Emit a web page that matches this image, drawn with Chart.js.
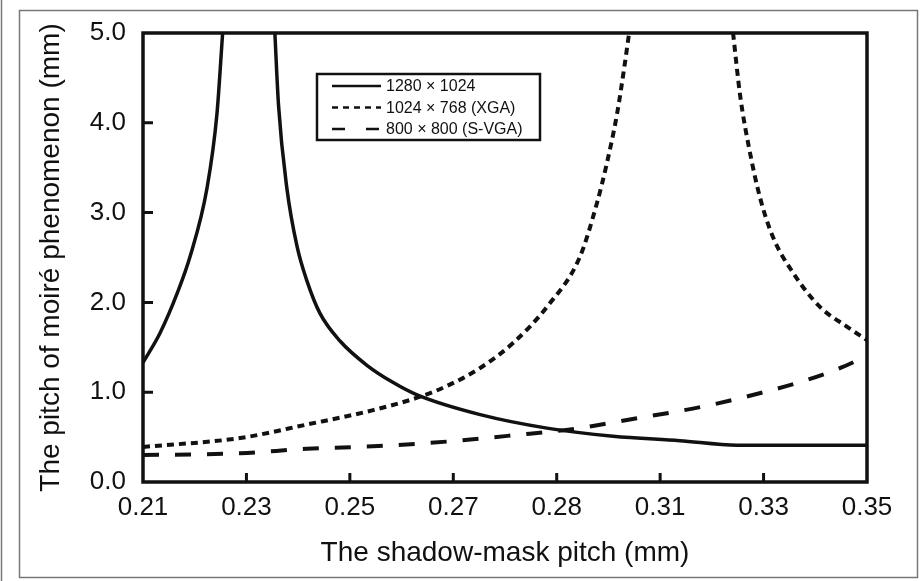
<!DOCTYPE html>
<html>
<head>
<meta charset="utf-8">
<script src="https://cdn.jsdelivr.net/npm/chart.js@4.4.1/dist/chart.umd.min.js"></script>
<style>
  body { margin: 0; background: #fff; }
  #box { width: 922px; height: 581px; }
</style>
</head>
<body>
<div id="box"><canvas id="grafico" width="922" height="581"></canvas></div>
<script>
// dados

const xTickValues = [0.21, 0.23, 0.25, 0.27, 0.29, 0.31, 0.33, 0.35];
const xTickLabels = ['0.21', '0.23', '0.25', '0.27', '0.28', '0.31', '0.33', '0.35'];
const yTickValues = [0, 1, 2, 3, 4, 5];

const seriesNames = ['1280 \u00d7 1024', '1024 \u00d7 768 (XGA)', '800 \u00d7 800 (S-VGA)'];

// 1280 x 1024 (null = quebra entre os dois ramos)
const pitch1280 = [0.21, 0.2133, 0.2166, 0.2191, 0.2224, 0.2243, 0.2254, 0.23, 0.2355, 0.2362, 0.2378, 0.2398, 0.2417, 0.2442, 0.2481, 0.2533, 0.2583, 0.2630, 0.2752, 0.2881, 0.3009, 0.3138, 0.3249, 0.35];
const moire1280 = [1.33, 1.66, 2.10, 2.51, 3.28, 4.10, 5.0, null, 5.0, 4.20, 3.28, 2.62, 2.24, 1.88, 1.57, 1.30, 1.11, 0.97, 0.75, 0.60, 0.51, 0.46, 0.41, 0.41];

// 1024 x 768 (XGA)
const pitchXGA = [0.21, 0.2288, 0.2417, 0.2545, 0.2636, 0.2688, 0.2752, 0.2816, 0.2881, 0.2945, 0.2978, 0.2997, 0.3017, 0.3032, 0.3040, 0.314, 0.3241, 0.3255, 0.3274, 0.3293, 0.3318, 0.3357, 0.3409, 0.3461, 0.35];
const moireXGA = [0.39, 0.49, 0.64, 0.80, 0.95, 1.07, 1.27, 1.55, 1.95, 2.51, 3.11, 3.55, 4.11, 4.67, 5.0, null, 5.0, 4.29, 3.66, 3.17, 2.73, 2.33, 1.95, 1.73, 1.58];

// 800 x 800 (S-VGA)
const pitchSVGA = [0.21, 0.2288, 0.2417, 0.2555, 0.2688, 0.2816, 0.2945, 0.2995, 0.3055, 0.3117, 0.3183, 0.3245, 0.3307, 0.3369, 0.3431, 0.35];
const moireSVGA = [0.30, 0.32, 0.37, 0.40, 0.45, 0.52, 0.60, 0.65, 0.71, 0.77, 0.84, 0.92, 1.01, 1.11, 1.23, 1.40];

function pares(xs, ys) {
    return xs.map((x, i) => ({ x: x, y: ys[i] }));
}

const fonte = "'Liberation Sans', Arial, Helvetica, sans-serif";

// moldura, ticks para dentro e legenda
const extras = {
    id: 'extras',
    beforeDraw(chart) {
        const ctx = chart.ctx;
        ctx.save();
        ctx.strokeStyle = '#777';
        ctx.lineWidth = 1.5;
        ctx.strokeRect(19.5, 10.5, 898, 567);
        ctx.beginPath();
        ctx.moveTo(1.5, 0);
        ctx.lineTo(1.5, 581);
        ctx.stroke();
        ctx.restore();
    },
    afterDatasetsDraw(chart) {
        const ctx = chart.ctx;
        const a = chart.chartArea;
        const sx = chart.scales.x, sy = chart.scales.y;
        ctx.save();
        ctx.strokeStyle = '#111';
        ctx.lineWidth = 3;
        ctx.beginPath();
        yTickValues.slice(1, -1).forEach(v => {
            const y = sy.getPixelForValue(v);
            ctx.moveTo(a.left, y);
            ctx.lineTo(a.left + 10, y);
        });
        xTickValues.slice(1, -1).forEach(v => {
            const x = sx.getPixelForValue(v);
            ctx.moveTo(x, a.bottom);
            ctx.lineTo(x, a.bottom - 9);
        });
        ctx.stroke();
        ctx.lineWidth = 3.5;
        ctx.strokeRect(a.left, a.top, a.right - a.left, a.bottom - a.top);

        // legenda
        ctx.lineWidth = 2.5;
        ctx.strokeRect(317, 74, 223, 66);
        ctx.font = '16px ' + fonte;
        ctx.fillStyle = '#111';
        ctx.textBaseline = 'middle';
        const amostras = [[], [6, 5], [13, 21]];
        chart.data.datasets.forEach((ds, i) => {
            const y = 86 + i * 21.5;
            ctx.setLineDash(amostras[i]);
            ctx.lineWidth = 2.5;
            ctx.beginPath();
            ctx.moveTo(332, y);
            ctx.lineTo(381, y);
            ctx.stroke();
            ctx.setLineDash([]);
            ctx.fillText(ds.label, 386, y + 1);
        });
        ctx.restore();
    }
};

const config = {
    type: 'line',
    data: {
        datasets: [{
            label: seriesNames[0],
            data: pares(pitch1280, moire1280),
            borderColor: '#111',
            borderWidth: 3.5,
            pointRadius: 0,
            cubicInterpolationMode: 'monotone',
            spanGaps: false
        }, {
            label: seriesNames[1],
            data: pares(pitchXGA, moireXGA),
            borderColor: '#111',
            borderWidth: 4,
            borderDash: [7, 5],
            pointRadius: 0,
            cubicInterpolationMode: 'monotone',
            spanGaps: false
        }, {
            label: seriesNames[2],
            data: pares(pitchSVGA, moireSVGA),
            borderColor: '#111',
            borderWidth: 4,
            borderDash: [16, 16],
            pointRadius: 0,
            cubicInterpolationMode: 'monotone'
        }]
    },
    options: {
        responsive: false,
        animation: false,
        layout: { padding: { top: 33, right: 55, left: 0, bottom: 0 } },
        plugins: {
            legend: { display: false },
            tooltip: { enabled: false }
        },
        scales: {
            x: {
                type: 'linear',
                min: 0.21,
                max: 0.35,
                afterBuildTicks: s => { s.ticks = xTickValues.map(v => ({ value: v })); },
                afterFit: s => { s.height = 99; },
                grid: { display: false, drawTicks: false },
                border: { display: false },
                ticks: {
                    padding: 10,
                    color: '#111',
                    font: { family: fonte, size: 26 },
                    callback: (v, i) => xTickLabels[i]
                },
                title: {
                    display: true,
                    text: 'The shadow-mask pitch (mm)',
                    color: '#111',
                    font: { family: fonte, size: 28 },
                    padding: { top: 0, bottom: 11 }
                }
            },
            y: {
                min: 0,
                max: 5,
                afterBuildTicks: s => { s.ticks = yTickValues.map(v => ({ value: v })); },
                afterFit: s => { s.width = 143; },
                grid: { display: false, drawTicks: false },
                border: { display: false },
                ticks: {
                    padding: 17,
                    color: '#111',
                    font: { family: fonte, size: 26 },
                    callback: v => v.toFixed(1)
                },
                title: {
                    display: true,
                    text: 'The pitch of moir\u00e9 phenomenon (mm)',
                    color: '#111',
                    font: { family: fonte, size: 28 },
                    padding: { top: 34, bottom: 0 }
                }
            }
        }
    },
    plugins: [extras]
};

document.addEventListener('DOMContentLoaded', function() {
    const ctx = document.getElementById('grafico').getContext('2d');
    new Chart(ctx, config);
});
</script>
</body>
</html>
